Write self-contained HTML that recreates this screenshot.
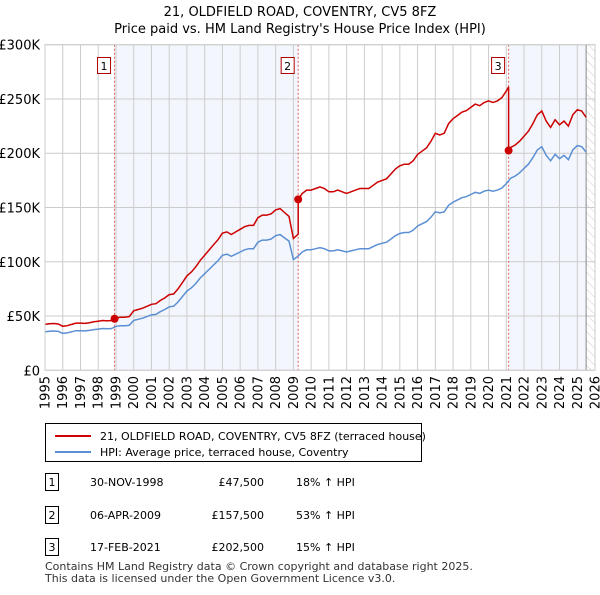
<!DOCTYPE html>
<html><head><meta charset="utf-8"><style>
body{margin:0;background:#fff;font-family:"Liberation Sans","DejaVu Sans",sans-serif;}
svg text{font-family:"DejaVu Sans","Liberation Sans",sans-serif;}
</style></head><body>
<svg id="c" width="600" height="590" xmlns="http://www.w3.org/2000/svg">
<defs><pattern id="hatch" width="6" height="6" patternUnits="userSpaceOnUse" patternTransform="rotate(-45)"><line x1="0" y1="0" x2="0" y2="6" stroke="#ccc" stroke-width="1"/></pattern></defs>
<text x="300" y="16" text-anchor="middle" font-size="13">21, OLDFIELD ROAD, COVENTRY, CV5 8FZ</text>
<text x="300" y="33" text-anchor="middle" font-size="13">Price paid vs. HM Land Registry's House Price Index (HPI)</text>
<g id="plot"></g>
<g>
<rect x="45.5" y="423.5" width="376" height="38" fill="#fff" stroke="#000"/>
<line x1="55" y1="436" x2="91" y2="436" stroke="#cc0000" stroke-width="2"/>
<text x="100" y="440" font-size="11">21, OLDFIELD ROAD, COVENTRY, CV5 8FZ (terraced house)</text>
<line x1="55" y1="452" x2="91" y2="452" stroke="#5b8fd4" stroke-width="2"/>
<text x="100" y="456" font-size="11">HPI: Average price, terraced house, Coventry</text>
</g>
<g id="table" font-size="11"></g>
<text x="45" y="570" font-size="11" fill="#333">Contains HM Land Registry data © Crown copyright and database right 2025.</text>
<text x="45" y="582" font-size="11" fill="#333">This data is licensed under the Open Government Licence v3.0.</text>
</svg>
<script>
const hpiValues=[35.5,36,36.2,35.8, 34,34.5,35.5,36.5, 36.5,36.3,36.8,37.5, 38,38.5,38.2,38.5,
40.5,41,41,41.5, 46,47,48,49.5, 51,51.5,54,56, 58.5,59,63,68, 73,76,80,85, 89,93,97,101,
106,107,105,107, 109,111,112,112, 118,120,120,121, 124,125,122,119, 102,105,109,111,
111,112,113,112, 110,110,111,110, 109,110,111,112, 112,112,114,116, 117,118,121,124,
126,127,127,129, 133,135,137,141, 146,145,146,152, 155,157,159,160, 162,164,163,165,
166,165,166,168, 172,177,179,182, 186,190,196,203, 206,198,193,199, 195,198,194,203, 207,206,201];
const hpiStart=1995, hpiStep=0.25;
const saleDates=[1998.92,2009.27,2021.13];
const salePrices=[47.5,157.5,202.5];
const saleLabels=["1","2","3"];
const saleDateText=["30-NOV-1998","06-APR-2009","17-FEB-2021"];
const salePriceText=["£47,500","£157,500","£202,500"];
const saleHpiText=["18% ↑ HPI","53% ↑ HPI","15% ↑ HPI"];
const yTicks=[0,50,100,150,200,250,300];
const yTickLabels=["£0","£50K","£100K","£150K","£200K","£250K","£300K"];
const xYears=[];for(let y=1995;y<=2026;y++)xYears.push(y);

const X0=45,X1=595,Y0=370.3,Y1=44.7;
const xs=t=>X0+(t-1995)/(2026-1995)*(X1-X0);
const ys=v=>Y0-v/300*(Y0-Y1);
const NS="http://www.w3.org/2000/svg";
const plot=document.getElementById('plot');
function mk(tag,at,parent){const e=document.createElementNS(NS,tag);for(const k in at)e.setAttribute(k,at[k]);(parent||plot).appendChild(e);return e;}
const hpiT=hpiValues.map((v,i)=>hpiStart+i*hpiStep);
const dataEnd=hpiT[hpiT.length-1];
function hpiAt(t){let i=Math.min(Math.floor((t-hpiStart)/hpiStep),hpiValues.length-2);const f=(t-hpiT[i])/hpiStep;return hpiValues[i]*(1-f)+hpiValues[i+1]*f;}

let r=mk('rect',{x:X0,y:Y1,width:X1-X0,height:Y0-Y1,fill:'#fff'});

for(const [a,b] of [[saleDates[0],saleDates[1]],[saleDates[2],dataEnd]]){
 const s=mk('rect',{x:xs(a),y:Y1,width:xs(b)-xs(a),height:Y0-Y1,fill:'#eef3fc',opacity:0.7});
 
}
const h=mk('rect',{x:xs(dataEnd),y:Y1,width:X1-xs(dataEnd),height:Y0-Y1,fill:'url(#hatch)'});

xYears.forEach(y=>{
 const g=mk('line',{x1:xs(y),x2:xs(y),y1:Y1,y2:Y0,stroke:'#ccc','stroke-width':1});
 
 const tx=xs(y)+4.5,ty=376;
 const t=mk('text',{x:tx,y:ty,'text-anchor':'end','font-size':13,transform:`rotate(-90 ${tx} ${ty})`});t.textContent=y;
 
});
yTicks.forEach((v,i)=>{
 const g=mk('line',{x1:X0,x2:X1,y1:ys(v),y2:ys(v),stroke:'#ccc','stroke-width':1});
 
 const t=mk('text',{x:40,y:ys(v)+5,'text-anchor':'end','font-size':13});t.textContent=yTickLabels[i];
 
});
const el=mk('line',{x1:xs(dataEnd),x2:xs(dataEnd),y1:Y1,y2:Y0,stroke:'#888','stroke-width':1});

saleDates.forEach((d,i)=>{
 const l=mk('line',{x1:xs(d),x2:xs(d),y1:Y1,y2:Y0,stroke:'#e06060','stroke-dasharray':'2,2','stroke-width':1});
 
});
let p='';hpiValues.forEach((v,i)=>{p+=(i?'L':'M')+xs(hpiT[i]).toFixed(1)+','+ys(v).toFixed(1);});
const hl=mk('path',{d:p,fill:'none',stroke:'#5b8fd4','stroke-width':1.5});

const ratios=saleDates.map((d,i)=>salePrices[i]/hpiAt(d));
const pts=[];
hpiT.forEach((t,i)=>{let k=0;for(let j=0;j<saleDates.length;j++)if(t>=saleDates[j])k=j;pts.push([t,hpiValues[i]*ratios[k]]);});
saleDates.forEach((d,j)=>{if(j>0)pts.push([d-0.001,hpiAt(d)*ratios[j-1]]);pts.push([d,salePrices[j]]);});
pts.sort((a,b)=>a[0]-b[0]);
p='';pts.forEach((q,i)=>{p+=(i?'L':'M')+xs(q[0]).toFixed(1)+','+ys(q[1]).toFixed(1);});
const pl=mk('path',{d:p,fill:'none',stroke:'#cc0000','stroke-width':1.5});

saleDates.forEach((d,i)=>{
 const c=mk('circle',{cx:xs(d),cy:ys(salePrices[i]),r:4,fill:'#cc0000'});
 
 const b=mk('rect',{x:xs(d)-17,y:57.5,width:13,height:16,fill:'#fff',stroke:'#b00000'});
 
 const t=mk('text',{x:xs(d)-10.5,y:70,'text-anchor':'middle','font-size':11});t.textContent=saleLabels[i];
 
});
const fr=mk('rect',{x:X0,y:Y1,width:X1-X0,height:Y0-Y1,fill:'none',stroke:'#ccc'});

const tb=document.getElementById('table');
const rowY=[483,516,548];
saleDates.forEach((d,i)=>{
 const y=rowY[i];
 const b=mk('rect',{x:45.5,y:y-9.5,width:13,height:17,fill:'#fff',stroke:'#000'},tb);
 
 const n=mk('text',{x:52,y:y+3,'text-anchor':'middle'},tb);n.textContent=saleLabels[i];
 
 const a=mk('text',{x:90,y:y+3},tb);a.textContent=saleDateText[i];
 
 const pr=mk('text',{x:264,y:y+3,'text-anchor':'end'},tb);pr.textContent=salePriceText[i];
 
 const hp=mk('text',{x:296,y:y+3},tb);hp.textContent=saleHpiText[i];
 
});
</script>
</body></html>
